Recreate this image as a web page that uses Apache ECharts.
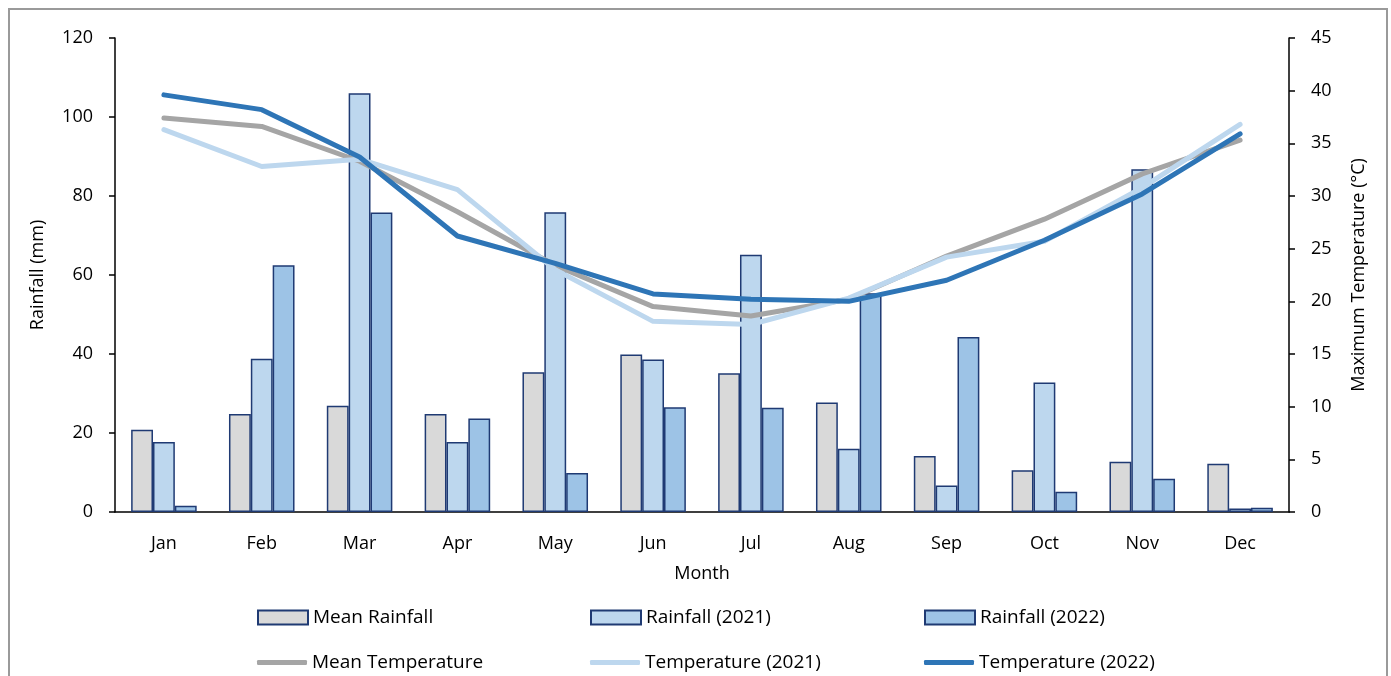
<!DOCTYPE html>
<html>
<head>
<meta charset="utf-8">
<script src="https://cdn.jsdelivr.net/npm/echarts@6/dist/echarts.min.js"></script>
<style>
    html, body { margin: 0; padding: 0; background: #fff; }
    #chart { position: absolute; left: 0; top: 0; width: 1391px; height: 676px; }
    #frame { position: absolute; left: 8px; top: 8px; width: 1376px; height: 720px; border: 2px solid #9a9a9a; pointer-events: none; }
</style>
</head>
<body>
<div id="chart"></div>
<div id="frame"></div>
<script>
var months = ['Jan', 'Feb', 'Mar', 'Apr', 'May', 'Jun', 'Jul', 'Aug', 'Sep', 'Oct', 'Nov', 'Dec'];

var meanRainfall = [20.8, 24.8, 26.9, 24.8, 35.4, 39.9, 35.1, 27.7, 14.2, 10.6, 12.7, 12.2];
var rainfall2021 = [17.7, 38.8, 106.0, 17.7, 75.9, 38.6, 65.1, 16.0, 6.7, 32.8, 86.8, 0.9];
var rainfall2022 = [1.6, 62.5, 75.8, 23.7, 9.9, 26.5, 26.4, 55.4, 44.3, 5.1, 8.4, 1.1];

var meanTemp = [37.4, 36.6, 33.3, 28.5, 23.4, 19.5, 18.6, 20.2, 24.3, 27.8, 32.1, 35.3];
var temp2021 = [36.3, 32.8, 33.5, 30.6, 23.0, 18.1, 17.8, 20.3, 24.2, 25.7, 30.8, 36.8];
var temp2022 = [39.6, 38.2, 33.7, 26.2, 23.6, 20.7, 20.2, 20.0, 22.0, 25.8, 30.2, 35.9];

var rainTicks = [0, 20, 40, 60, 80, 100, 120];
var tempTicks = [0, 5, 10, 15, 20, 25, 30, 35, 40, 45];

var font = '"Open Sans", "Noto Sans", sans-serif';
var edge = '#1f3a73';

var barSeries = function(name, color, data) {
    return {
        name: name,
        type: 'bar',
        yAxisIndex: 0,
        barGap: '0%',
        barCategoryGap: '33%',
        itemStyle: { color: color, borderColor: edge, borderWidth: 1.5 },
        data: data
    };
};

var lineSeries = function(name, color, data) {
    return {
        name: name,
        type: 'line',
        yAxisIndex: 1,
        symbol: 'none',
        z: 5,
        lineStyle: { color: color, width: 5, cap: 'round', join: 'round' },
        itemStyle: { color: color },
        data: data
    };
};

// one legend per item so the 3x2 layout is exact
var legendItem = function(left, top, name, isLine) {
    return {
        left: left,
        top: top,
        padding: 0,
        itemWidth: 50,
        itemHeight: isLine ? 5 : 14,
        icon: isLine ? 'roundRect' : 'rect',
        itemGap: 0,
        textStyle: { fontFamily: font, fontSize: 19, color: '#000' },
        data: [name]
    };
};

var axisText = { fontFamily: font, fontSize: 18, color: '#000' };

var option = {
    animation: false,
    textStyle: { fontFamily: font },
    grid: { left: 115, right: 102, top: 38, bottom: 164 },
    legend: [
        legendItem(257, 608, 'Mean Rainfall', false),
        legendItem(590, 608, 'Rainfall (2021)', false),
        legendItem(924, 608, 'Rainfall (2022)', false),
        legendItem(257, 653, 'Mean Temperature', true),
        legendItem(590, 653, 'Temperature (2021)', true),
        legendItem(924, 653, 'Temperature (2022)', true)
    ],
    xAxis: {
        type: 'category',
        data: months,
        name: 'Month',
        nameLocation: 'middle',
        nameGap: 53,
        nameTextStyle: axisText,
        axisLine: { lineStyle: { color: '#000', width: 1.5 } },
        axisTick: { show: false },
        axisLabel: Object.assign({ margin: 23 }, axisText)
    },
    yAxis: [{
        type: 'value',
        min: rainTicks[0],
        max: rainTicks[rainTicks.length - 1],
        interval: 20,
        name: 'Rainfall (mm)',
        nameLocation: 'middle',
        nameGap: 68,
        nameTextStyle: axisText,
        axisLine: { show: true, lineStyle: { color: '#000', width: 1.5 } },
        axisTick: { show: true, length: 6, lineStyle: { color: '#000', width: 1.5 } },
        axisLabel: Object.assign({ margin: 22 }, axisText),
        splitLine: { show: false }
    }, {
        type: 'value',
        position: 'right',
        min: tempTicks[0],
        max: tempTicks[tempTicks.length - 1],
        interval: 5,
        name: 'Maximum Temperature (°C)',
        nameLocation: 'middle',
        nameGap: 61,
        nameRotate: 90,
        nameTextStyle: axisText,
        axisLine: { show: true, lineStyle: { color: '#000', width: 1.5 } },
        axisTick: { show: true, length: 6, lineStyle: { color: '#000', width: 1.5 } },
        axisLabel: Object.assign({ margin: 22 }, axisText),
        splitLine: { show: false }
    }],
    series: [
        barSeries('Mean Rainfall', '#d9d9d9', meanRainfall),
        barSeries('Rainfall (2021)', '#bdd7ee', rainfall2021),
        barSeries('Rainfall (2022)', '#9dc3e6', rainfall2022),
        lineSeries('Mean Temperature', '#a5a5a5', meanTemp),
        lineSeries('Temperature (2021)', '#bdd7ee', temp2021),
        lineSeries('Temperature (2022)', '#2e75b6', temp2022)
    ]
};

echarts.init(document.getElementById('chart')).setOption(option);
</script>
</body>
</html>
